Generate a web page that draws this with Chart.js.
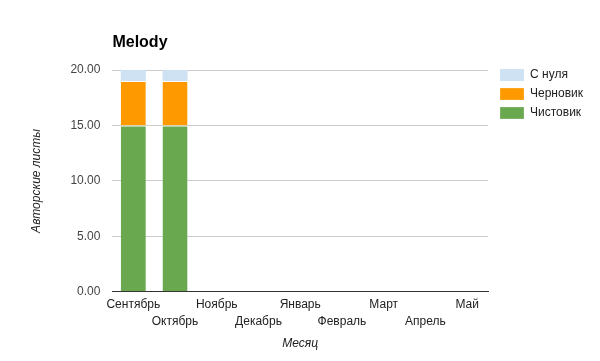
<!DOCTYPE html>
<html>
<head>
<meta charset="utf-8">
<script src="https://cdn.jsdelivr.net/npm/chart.js@4/dist/chart.umd.min.js"></script>
<style>
html,body{margin:0;padding:0;background:#fff;}
#wrap{width:600px;height:361px;position:relative;}
</style>
</head>
<body>
<div id="wrap"><canvas id="c" width="600" height="361"></canvas></div>
<script>
const months = ['Сентябрь','Октябрь','Ноябрь','Декабрь','Январь','Февраль','Март','Апрель','Май'];
const clean = [15, 15, 0, 0, 0, 0, 0, 0, 0];   // Чистовик
const draft = [4, 4, 0, 0, 0, 0, 0, 0, 0];     // Черновик
const scratch = [1, 1, 0, 0, 0, 0, 0, 0, 0];   // С нуля
const yTicks = [0, 5, 10, 15, 20];

const FONT = '"Liberation Sans", Arial, sans-serif';
Chart.defaults.font.family = FONT;
Chart.defaults.font.size = 12;

const titlePlugin = {
  id: 'leftTitle',
  afterLayout(chart) {
    const lg = chart.legend;
    if (lg) { lg.left += 5; lg.right += 5; lg.top -= 8; lg.bottom -= 8; }
  },
  afterDraw(chart) {
    const ctx = chart.ctx;
    ctx.save();
    ctx.font = 'bold 16px ' + FONT;
    ctx.fillStyle = '#000';
    ctx.textBaseline = 'middle';
    ctx.textAlign = 'left';
    ctx.fillText('Melody', chart.chartArea.left, 43);
    ctx.restore();
  }
};

new Chart(document.getElementById('c'), {
  type: 'bar',
  data: {
    labels: months.map((m, i) => i % 2 === 0 ? [m, ''] : ['', m]),
    datasets: [
      {label: 'Чистовик', data: clean, backgroundColor: '#6aa84f', borderColor: '#fff', borderWidth: {top: 1}, borderSkipped: 'bottom'},
      {label: 'Черновик', data: draft, backgroundColor: '#ff9900', borderColor: '#fff', borderWidth: {top: 1}, borderSkipped: 'bottom'},
      {label: 'С нуля', data: scratch, backgroundColor: '#cfe2f3', borderColor: '#fff', borderWidth: 0}
    ]
  },
  options: {
    responsive: false,
    animation: false,
    layout: {padding: {top: 70, left: 29, right: 12, bottom: 10}},
    datasets: {bar: {barPercentage: 0.6, categoryPercentage: 1}},
    plugins: {
      title: {display: false},
      tooltip: {enabled: false},
      legend: {
        position: 'right',
        align: 'start',
        reverse: true,
        labels: {boxWidth: 24, boxHeight: 12, color: '#222', padding: 7, font: {size: 12}}
      }
    },
    scales: {
      x: {
        stacked: true,
        grid: {display: false},
        border: {display: true, color: '#333', width: 1},
        ticks: {autoSkip: false, maxRotation: 0, color: '#222', padding: -4, font: {size: 12, lineHeight: 1.45}},
        title: {display: true, text: 'Месяц', color: '#222', font: {size: 12, style: 'italic'}, padding: {top: 10, bottom: 0}}
      },
      y: {
        stacked: true,
        min: 0, max: 20,
        afterBuildTicks(scale) { scale.ticks = yTicks.map(v => ({value: v})); },
        grid: {color: '#cccccc', drawTicks: false},
        border: {display: false},
        ticks: {color: '#444', padding: 12, font: {size: 12}, callback: v => Number(v).toFixed(2)},
        title: {display: true, text: 'Авторские листы', color: '#222', font: {size: 12, style: 'italic'}, padding: {top: 0, bottom: 15}}
      }
    }
  },
  plugins: [titlePlugin]
});
</script>
</body>
</html>
